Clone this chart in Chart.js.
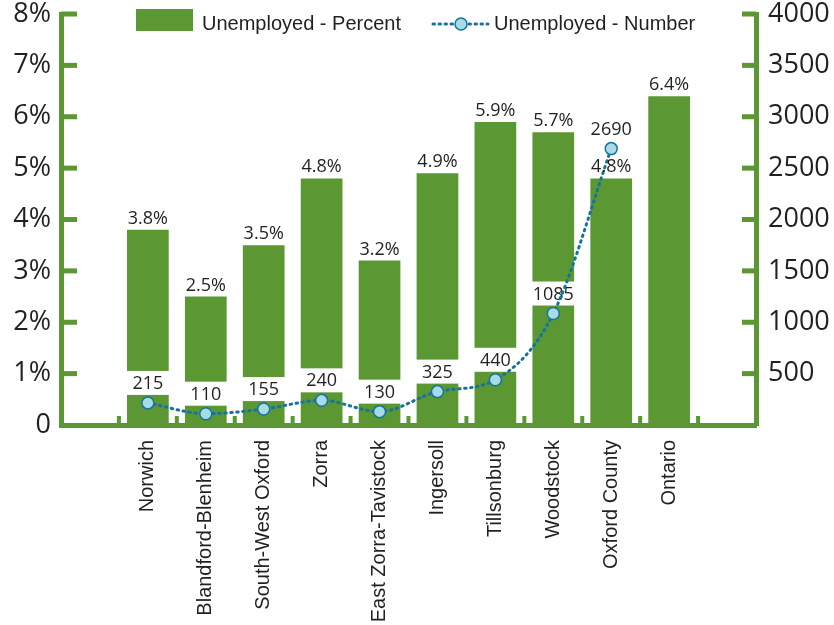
<!DOCTYPE html>
<html>
<head>
<meta charset="utf-8">
<title>Unemployment</title>
<script src="https://cdn.jsdelivr.net/npm/chart.js@4/dist/chart.umd.min.js"></script>
<style>
  html, body { margin: 0; padding: 0; background: #fff; }
  #wrap { width: 834px; height: 625px; position: relative; }
</style>
</head>
<body>
<div id="wrap"><canvas id="unemploymentChart"></canvas></div>
<script>
// Data
const categories = ['Norwich', 'Blandford-Blenheim', 'South-West Oxford', 'Zorra', 'East Zorra-Tavistock',
  'Ingersoll', 'Tillsonburg', 'Woodstock', 'Oxford County', 'Ontario'];
const percentValues = [3.8, 2.5, 3.5, 4.8, 3.2, 4.9, 5.9, 5.7, 4.8, 6.4];
const numberValues = [215, 110, 155, 240, 130, 325, 440, 1085, 2690, null];
const percentTicks = [0, 1, 2, 3, 4, 5, 6, 7, 8];
const numberTicks = [0, 500, 1000, 1500, 2000, 2500, 3000, 3500, 4000];

const GREEN = '#5b9733';
const TEAL = '#16739d';
const LIGHT = '#a7dbe8';
const TEXT = '#231f20';

// one empty slot on each side of the categories
const pad = arr => [null, ...arr, null];
const labels = ['', ...categories, ''];

// axis stubs, value labels and the legend
const decorations = {
  id: 'decorations',
  beforeDatasetsDraw(chart) {
    const { ctx, chartArea, scales } = chart;
    ctx.save();
    ctx.fillStyle = GREEN;
    // little ticks pointing inward from both value axes
    percentTicks.forEach(v => {
      const y = scales.y.getPixelForValue(v);
      if (v > 0) ctx.fillRect(chartArea.left, y - 2.5, 16, 5);
    });
    numberTicks.forEach(v => {
      const y = scales.y1.getPixelForValue(v);
      if (v > 0) ctx.fillRect(chartArea.right - 14, y - 2.5, 14, 5);
    });
    // category separators on the baseline
    for (let i = 0; i < labels.length - 1; i++) {
      const x = (scales.x.getPixelForValue(i) + scales.x.getPixelForValue(i + 1)) / 2;
      ctx.fillRect(x - 2, chartArea.bottom - 9, 4, 9);
    }
    ctx.restore();
  },
  beforeDatasetDraw(chart, args) {
    // number labels sit on white boxes under the line
    if (args.index !== 1) return;
    const { ctx } = chart;
    const bars = chart.getDatasetMeta(0).data;
    const points = chart.getDatasetMeta(1).data;
    ctx.save();
    ctx.font = '18px "Open Sans"';
    ctx.textAlign = 'center';
    ctx.textBaseline = 'middle';
    points.forEach((pt, i) => {
      const v = chart.data.datasets[1].data[i];
      if (v == null) return;
      const text = String(v);
      const w = Math.max(ctx.measureText(text).width + 8, bars[i].width + 2);
      const bottom = pt.y - 8;
      ctx.fillStyle = '#fff';
      ctx.fillRect(pt.x - w / 2, bottom - 24, w, 24);
      ctx.fillStyle = TEXT;
      ctx.fillText(text, pt.x, bottom - 11);
    });
    ctx.restore();
  },
  afterDatasetsDraw(chart) {
    const { ctx } = chart;
    ctx.save();
    ctx.font = '18px "Open Sans"';
    ctx.fillStyle = TEXT;
    ctx.textAlign = 'center';
    ctx.textBaseline = 'alphabetic';
    chart.getDatasetMeta(0).data.forEach((bar, i) => {
      const v = chart.data.datasets[0].data[i];
      if (v == null) return;
      ctx.fillText(v.toFixed(1) + '%', bar.x, bar.y - 6);
    });
    ctx.restore();
  },
  afterDraw(chart) {
    const { ctx } = chart;
    ctx.save();
    ctx.font = '20px "Liberation Sans"';
    ctx.textBaseline = 'middle';
    ctx.textAlign = 'left';
    // bar entry
    ctx.fillStyle = GREEN;
    ctx.fillRect(136, 9, 57, 22);
    ctx.fillStyle = TEXT;
    ctx.fillText(chart.data.datasets[0].label, 202, 24);
    // line entry
    ctx.strokeStyle = TEAL;
    ctx.lineWidth = 3;
    ctx.lineCap = 'round';
    ctx.setLineDash([1.5, 4.5]);
    ctx.beginPath();
    ctx.moveTo(433, 24);
    ctx.lineTo(488, 24);
    ctx.stroke();
    ctx.setLineDash([]);
    ctx.beginPath();
    ctx.arc(461, 24, 6, 0, Math.PI * 2);
    ctx.fillStyle = LIGHT;
    ctx.fill();
    ctx.lineWidth = 1.5;
    ctx.stroke();
    ctx.fillStyle = TEXT;
    ctx.fillText(chart.data.datasets[1].label, 494, 24);
    ctx.restore();
  }
};

// fixed axis box sizes so the plot area lines up with the frame
const fixWidth = w => s => {
  s.width = w;
  s.paddingTop = 0;
  s.paddingBottom = 0;
};

const ctx = document.getElementById('unemploymentChart').getContext('2d');
new Chart(ctx, {
  data: {
    labels: labels,
    datasets: [
      {
        type: 'bar',
        label: 'Unemployed - Percent',
        data: pad(percentValues),
        backgroundColor: GREEN,
        yAxisID: 'y',
        barPercentage: 0.72,
        categoryPercentage: 1,
        order: 1
      },
      {
        type: 'line',
        label: 'Unemployed - Number',
        data: pad(numberValues),
        yAxisID: 'y1',
        borderColor: TEAL,
        borderWidth: 3,
        borderDash: [1.5, 4.5],
        borderCapStyle: 'round',
        cubicInterpolationMode: 'monotone',
        pointRadius: 6,
        pointBackgroundColor: LIGHT,
        pointBorderColor: TEAL,
        pointBorderWidth: 1.5,
        order: 0
      }
    ]
  },
  options: {
    responsive: true,
    maintainAspectRatio: false,
    animation: false,
    layout: { padding: { top: 14, left: 0, right: 0, bottom: 0 } },
    plugins: {
      legend: { display: false },
      tooltip: { enabled: false }
    },
    scales: {
      x: {
        grid: { display: false, drawTicks: false },
        border: { color: GREEN, width: 5 },
        ticks: {
          autoSkip: false,
          minRotation: 90,
          maxRotation: 90,
          padding: 15,
          color: TEXT,
          font: { family: '"Liberation Sans"', size: 20 }
        },
        afterFit: s => { s.height = 200; s.paddingLeft = 0; s.paddingRight = 0; }
      },
      y: {
        position: 'left',
        min: 0,
        max: 8,
        afterBuildTicks: s => { s.ticks = percentTicks.map(v => ({ value: v })); },
        ticks: {
          padding: 10,
          color: TEXT,
          font: { family: '"Open Sans"', size: 27 },
          callback: v => (v === 0 ? '0' : v + '%')
        },
        grid: { display: false, drawTicks: false },
        border: { color: GREEN, width: 5 },
        afterFit: fixWidth(61)
      },
      y1: {
        position: 'right',
        min: 0,
        max: 4000,
        afterBuildTicks: s => { s.ticks = numberTicks.map(v => ({ value: v })); },
        ticks: {
          padding: 12,
          color: TEXT,
          font: { family: '"Open Sans"', size: 27 },
          callback: v => (v === 0 ? '' : String(v))
        },
        grid: { display: false, drawTicks: false },
        border: { color: GREEN, width: 5 },
        afterFit: fixWidth(78)
      }
    }
  },
  plugins: [decorations]
});
</script>
</body>
</html>
